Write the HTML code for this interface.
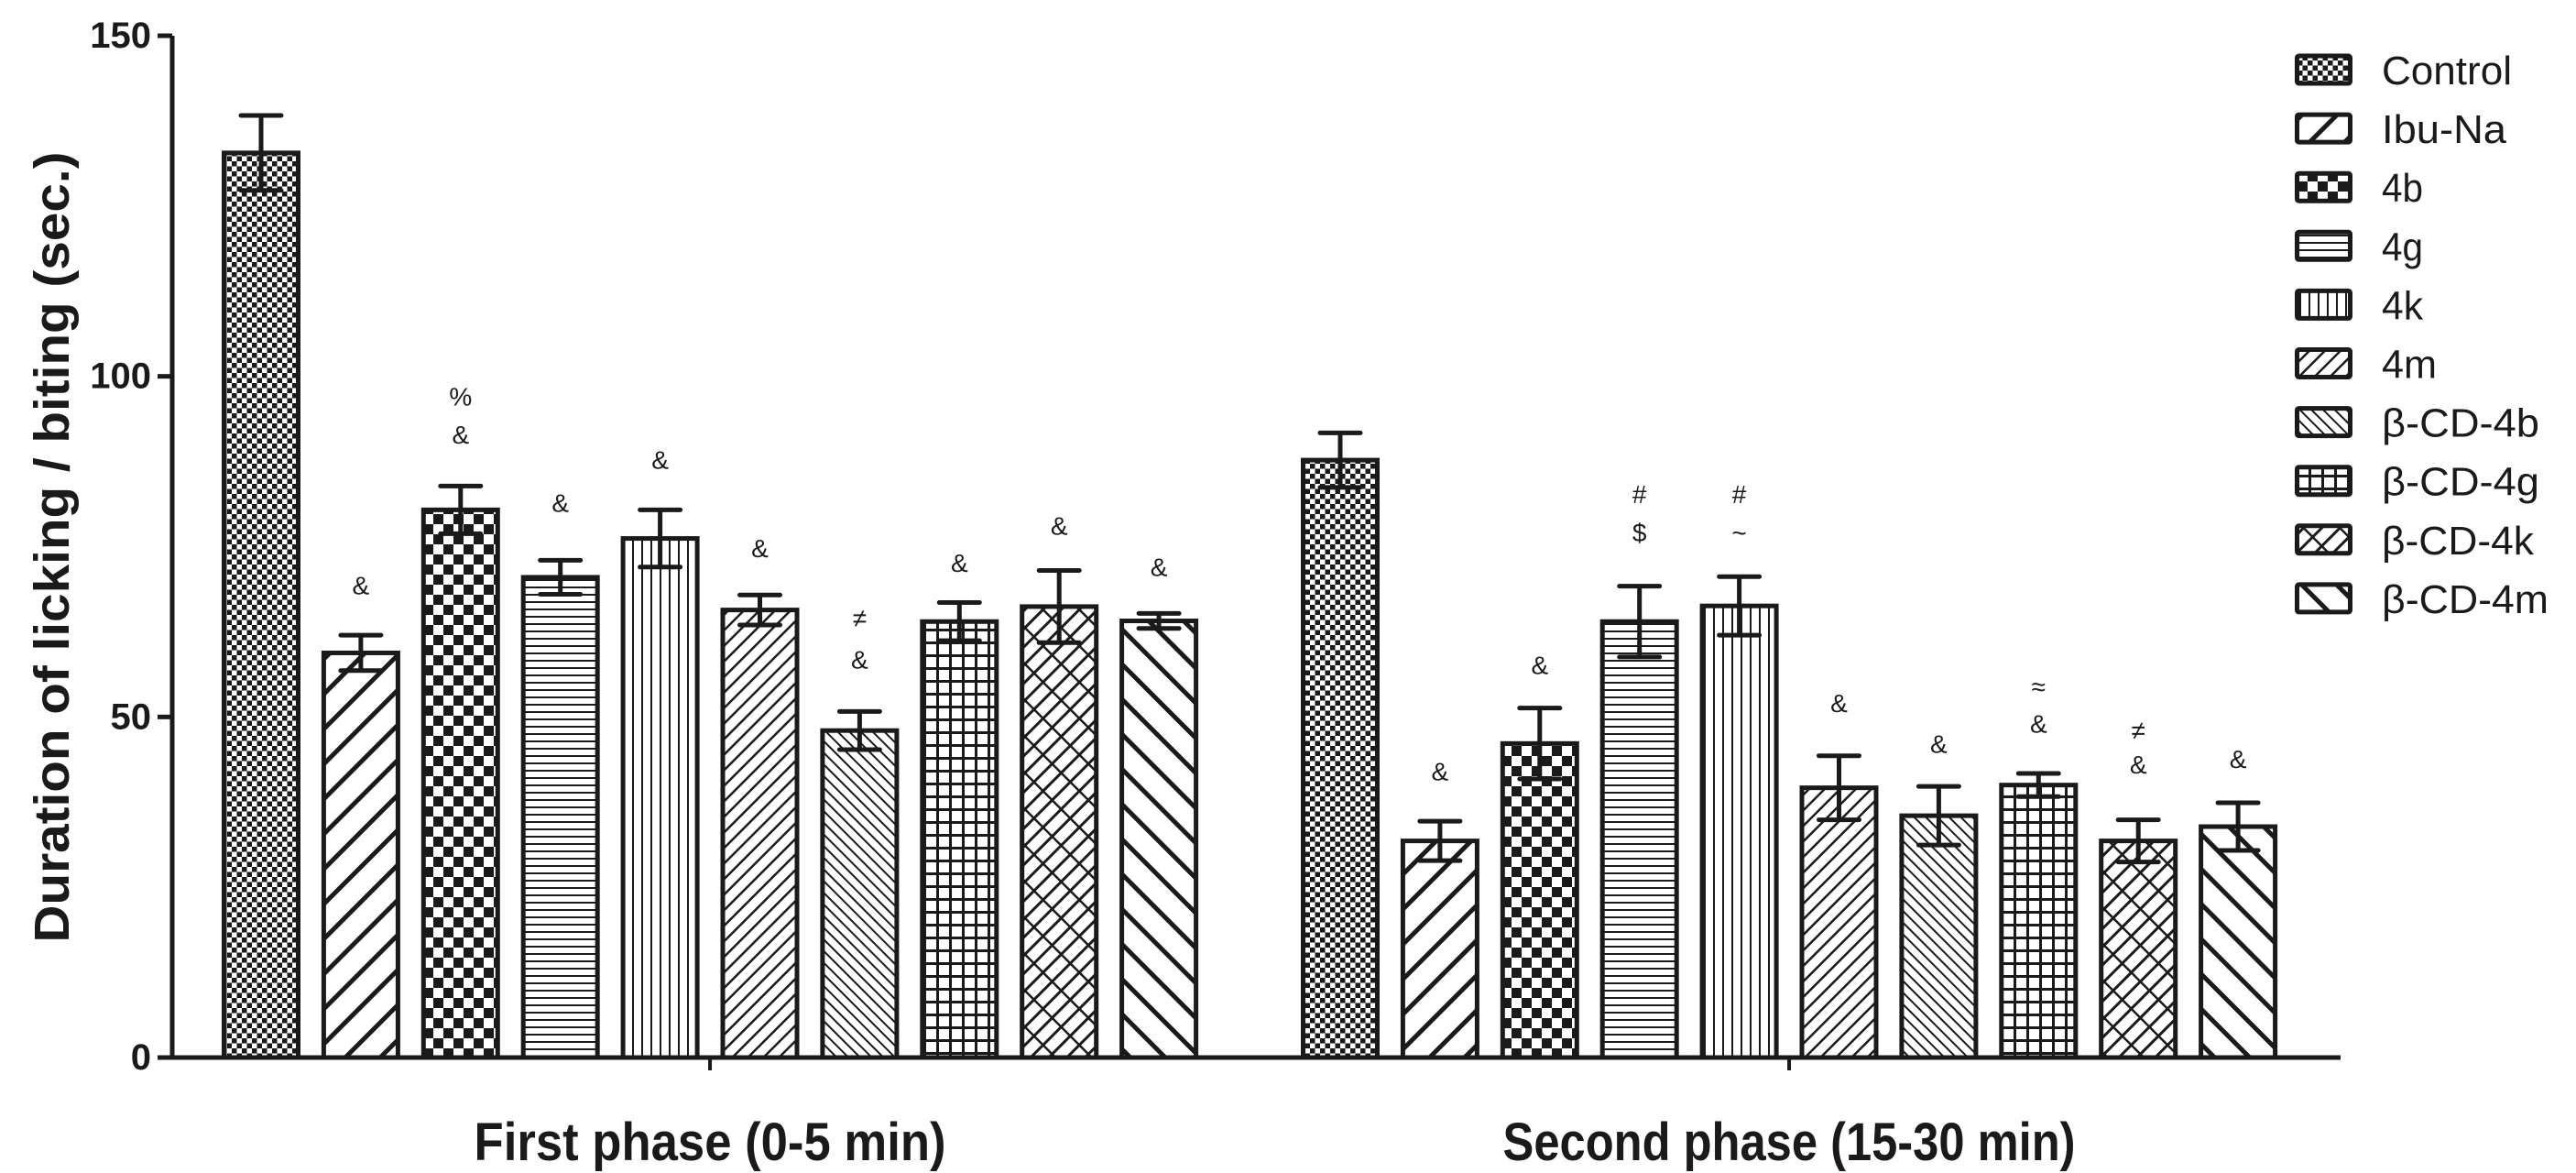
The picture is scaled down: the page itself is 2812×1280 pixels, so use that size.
<!DOCTYPE html>
<html><head><meta charset="utf-8"><style>
html,body{margin:0;padding:0;background:#fff;}
svg{display:block;}
text{font-family:"Liberation Sans",Arial,sans-serif;fill:#1a1a1a;}
</style></head><body>
<svg id="chart" width="2812" height="1280" viewBox="0 0 2812 1280" xmlns="http://www.w3.org/2000/svg">
<defs>
<pattern id="p0" patternUnits="userSpaceOnUse" width="11" height="11"><rect width="11" height="11" fill="#fff"/><rect width="5.5" height="5.5" fill="#1a1a1a"/><rect x="5.5" y="5.5" width="5.5" height="5.5" fill="#1a1a1a"/></pattern>
<pattern id="p1" patternUnits="userSpaceOnUse" width="27" height="27" patternTransform="rotate(45)"><rect width="27" height="27" fill="#fff"/><rect width="5" height="27" fill="#1a1a1a"/></pattern>
<pattern id="p2" patternUnits="userSpaceOnUse" width="22" height="22"><rect width="22" height="22" fill="#fff"/><rect width="11" height="11" fill="#1a1a1a"/><rect x="11" y="11" width="11" height="11" fill="#1a1a1a"/></pattern>
<pattern id="p3" patternUnits="userSpaceOnUse" width="8" height="8"><rect width="8" height="8" fill="#fff"/><rect width="8" height="2" fill="#1a1a1a"/></pattern>
<pattern id="p4" patternUnits="userSpaceOnUse" width="10" height="10"><rect width="10" height="10" fill="#fff"/><rect width="2" height="10" fill="#1a1a1a"/></pattern>
<pattern id="p5" patternUnits="userSpaceOnUse" width="12" height="12" patternTransform="rotate(45)"><rect width="12" height="12" fill="#fff"/><rect width="2.5" height="12" fill="#1a1a1a"/></pattern>
<pattern id="p6" patternUnits="userSpaceOnUse" width="9" height="9" patternTransform="rotate(-45)"><rect width="9" height="9" fill="#fff"/><rect width="2" height="9" fill="#1a1a1a"/></pattern>
<pattern id="p7" patternUnits="userSpaceOnUse" width="14" height="14"><rect width="14" height="14" fill="#fff"/><rect width="3" height="14" fill="#1a1a1a"/><rect width="14" height="3" fill="#1a1a1a"/></pattern>
<pattern id="p8" patternUnits="userSpaceOnUse" width="14" height="28" patternTransform="rotate(45)"><rect width="14" height="28" fill="#fff"/><rect width="3" height="28" fill="#1a1a1a"/><rect x="3" y="0" width="11" height="2.5" fill="#1a1a1a"/><rect x="0" y="14" width="14" height="0" fill="#1a1a1a"/></pattern>
<pattern id="p9" patternUnits="userSpaceOnUse" width="27" height="27" patternTransform="rotate(-45)"><rect width="27" height="27" fill="#fff"/><rect width="5" height="27" fill="#1a1a1a"/></pattern>
</defs>
</svg>
<script>
const categories = ["Control","Ibu-Na","4b","4g","4k","4m","β-CD-4b","β-CD-4g","β-CD-4k","β-CD-4m"];
const groups = ["First phase (0-5 min)","Second phase (15-30 min)"];
const phase1Values = [132.8,59.4,80.4,70.5,76.2,65.7,48.0,64.0,66.2,64.1];
const phase1Errors = [5.5,2.6,3.5,2.5,4.2,2.2,2.8,2.8,5.3,1.1];
const phase2Values = [87.7,31.8,46.1,64.0,66.3,39.6,35.5,40.0,31.8,33.9];
const phase2Errors = [4.0,2.9,5.2,5.2,4.3,4.7,4.3,1.7,3.1,3.5];
const phase1Marks = [[],["&"],["%","&"],["&"],["&"],["&"],["≠","&"],["&"],["&"],["&"]];
const phase1MarkLevels = [[],[69.3],[97,91.4],[81.4],[87.7],[74.7],[64.5,58.4],[72.6],[78],[72]];
const phase2Marks = [[],["&"],["&"],["#","$"],["#","~"],["&"],["&"],["≈","&"],["≠","&"],["&"]];
const phase2MarkLevels = [[],[42],[57.6],[82.7,77],[82.7,77],[52],[46],[54.4,49],[48,43],[43.8]];
const yTicks = [0,50,100,150];

const svg = document.getElementById('chart');
const NS = 'http://www.w3.org/2000/svg';
const X0 = 188, Y0 = 1154, YTOP = 39, YMAX = 150;
const groupStart = [242, 1420], PITCH = 108.9, BW = 86;
const y = v => Y0 - (v / YMAX) * (Y0 - YTOP);
const x = (g, i) => groupStart[g] + i * PITCH;
function mk(tag, attrs, parent) { const e = document.createElementNS(NS, tag); for (const k in attrs) e.setAttribute(k, attrs[k]); (parent || svg).appendChild(e); return e; }

const vals = [phase1Values, phase2Values], errs = [phase1Errors, phase2Errors];
const marks = [phase1Marks, phase2Marks], levels = [phase1MarkLevels, phase2MarkLevels];
for (let g = 0; g < 2; g++) {
  for (let i = 0; i < categories.length; i++) {
    const left = x(g, i), v = vals[g][i], e = errs[g][i], cx = left + BW / 2;
    const r = mk('rect', {x: left + 2.5, y: y(v), width: BW - 5, height: Y0 - y(v), fill: 'url(#p' + i + ')', stroke: '#1a1a1a', 'stroke-width': 5});
    
    
    const eb = mk('path', {d: `M${cx},${y(v - e)}V${y(v + e)}M${cx - 22},${y(v + e)}H${cx + 22}M${cx - 22},${y(v - e)}H${cx + 22}`, stroke: '#1a1a1a', 'stroke-width': 5, 'stroke-linecap': 'round', fill: 'none'});
    
    
    marks[g][i].forEach((m, k) => {
      const t = mk('text', {x: cx, y: y(levels[g][i][k]), 'font-size': 28, 'text-anchor': 'middle', 'dominant-baseline': 'central'});
      t.textContent = m;
      
      
    });
  }
}
// axes
const ya = mk('line', {x1: X0, y1: YTOP, x2: X0, y2: Y0 + 2, stroke: '#1a1a1a', 'stroke-width': 5});


const xa = mk('line', {x1: X0, y1: Y0, x2: 2555, y2: Y0, stroke: '#1a1a1a', 'stroke-width': 5});


yTicks.forEach(t => {
  mk('line', {x1: 172, y1: y(t), x2: X0, y2: y(t), stroke: '#1a1a1a', 'stroke-width': 5});
  const l = mk('text', {x: 165, y: y(t), 'font-size': 40, 'font-weight': 'bold', 'text-anchor': 'end', 'dominant-baseline': 'central'});
  l.textContent = t;
  
  
});
groups.forEach((gname, g) => {
  const cx = x(g, 0) + (9 * PITCH + BW) / 2;
  mk('line', {x1: cx, y1: Y0, x2: cx, y2: Y0 + 14, stroke: '#1a1a1a', 'stroke-width': 4});
  const l = mk('text', {x: cx, y: 1266, 'font-size': 58, 'font-weight': 'bold', 'text-anchor': 'middle', textLength: g === 0 ? 515 : 625, lengthAdjust: 'spacingAndGlyphs'});
  l.textContent = gname;
  
  
});
const yt = mk('text', {x: 0, y: 0, 'font-size': 54, 'font-weight': 'bold', 'text-anchor': 'middle', 'dominant-baseline': 'central', transform: 'translate(57,597) rotate(-90)', textLength: 863, lengthAdjust: 'spacingAndGlyphs'});
yt.textContent = 'Duration of licking / biting (sec.)';


// legend
categories.forEach((c, i) => {
  const cy = 76 + i * 64.1;
  const b = mk('rect', {x: 2507.5, y: cy - 15, width: 58, height: 30, fill: 'url(#p' + i + ')', stroke: '#1a1a1a', 'stroke-width': 5, rx: 2});
  
  
  const t = mk('text', {x: 2600, y: cy + 16, 'font-size': 44, textLength: [142,136,45,45,45,60,172,172,166,182][i], lengthAdjust: 'spacingAndGlyphs'});
  t.textContent = c;
  
  
});
</script>
</body></html>
